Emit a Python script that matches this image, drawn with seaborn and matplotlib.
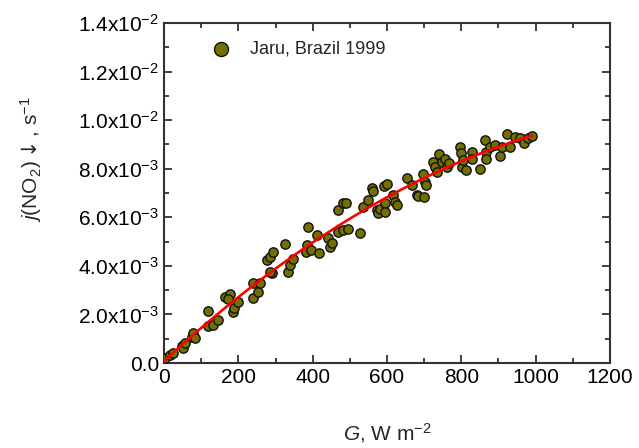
import numpy as np
import pandas as pd
import matplotlib
matplotlib.use("Agg")
import matplotlib.pyplot as plt
import seaborn as sns
from matplotlib.ticker import MultipleLocator, FuncFormatter

# irradiance G (W m-2)
g_values = [3, 16, 24, 48, 51, 56, 75, 78, 83, 118, 118, 132, 145, 164, 178, 172,
            186, 188, 199, 239, 239, 253, 258, 277, 285, 293, 291, 285, 325, 334,
            339, 347, 385, 387, 382, 395, 412, 417, 441, 447, 452, 468, 482, 490,
            468, 482, 495, 527, 535, 549, 560, 562, 573, 576, 581, 594, 594, 592,
            600, 616, 621, 627, 654, 667, 681, 683, 699, 697, 702, 705, 724, 729,
            734, 740, 748, 756, 761, 767, 796, 799, 802, 812, 804, 829, 829, 850,
            863, 866, 866, 877, 890, 904, 909, 923, 931, 944, 958, 968, 979, 990]

# photolysis frequency j(NO2), s-1
j_values = [0.00021, 0.00033, 0.00041, 0.00070, 0.00062, 0.00082, 0.00107, 0.00124,
            0.00103, 0.00214, 0.00152, 0.00156, 0.00177, 0.00272, 0.00284, 0.00264,
            0.00210, 0.00226, 0.00251, 0.00329, 0.00268, 0.00292, 0.00329, 0.00424,
            0.00437, 0.00457, 0.00371, 0.00375, 0.00490, 0.00375, 0.00404, 0.00428,
            0.00486, 0.00560, 0.00457, 0.00465, 0.00527, 0.00453, 0.00515, 0.00478,
            0.00494, 0.00630, 0.00659, 0.00659, 0.00539, 0.00548, 0.00552, 0.00535,
            0.00642, 0.00671, 0.00721, 0.00708, 0.00630, 0.00618, 0.00634, 0.00659,
            0.00622, 0.00729, 0.00737, 0.00692, 0.00663, 0.00651, 0.00762, 0.00733,
            0.00692, 0.00688, 0.00684, 0.00778, 0.00745, 0.00733, 0.00828, 0.00807,
            0.00787, 0.00861, 0.00828, 0.00840, 0.00807, 0.00824, 0.00889, 0.00865,
            0.00807, 0.00795, 0.00836, 0.00869, 0.00840, 0.00799, 0.00918, 0.00869,
            0.00840, 0.00889, 0.00898, 0.00852, 0.00889, 0.00943, 0.00889, 0.00931,
            0.00926, 0.00906, 0.00926, 0.00935]

series_label = "Jaru, Brazil 1999"

df = pd.DataFrame({"G": g_values, "j": j_values})

sns.set_theme(style="ticks")
plt.rcParams["font.family"] = ["Liberation Sans", "DejaVu Sans"]
plt.rcParams["mathtext.fontset"] = "custom"
plt.rcParams["mathtext.rm"] = "Liberation Sans"
plt.rcParams["mathtext.it"] = "Liberation Sans:italic"
plt.rcParams["mathtext.sf"] = "DejaVu Sans"
plt.rcParams["mathtext.default"] = "regular"

fig = plt.figure(figsize=(6.39, 4.48), dpi=100)
ax = fig.add_axes([0.2567, 0.1897, 0.6979, 0.759])

sns.scatterplot(data=df, x="G", y="j", ax=ax, color="#727000", edgecolor="#111111",
                linewidth=1.0, s=45, label=series_label, zorder=3)
sns.regplot(data=df, x="G", y="j", ax=ax, order=2, ci=None, scatter=False,
            line_kws={"color": "red", "linewidth": 1.9, "zorder": 4})

ax.set_xlim(0, 1200)
ax.set_ylim(0, 0.014)
ax.xaxis.set_major_locator(MultipleLocator(200))
ax.xaxis.set_minor_locator(MultipleLocator(100))
ax.yaxis.set_major_locator(MultipleLocator(0.002))
ax.yaxis.set_minor_locator(MultipleLocator(0.001))

def sci_fmt(v, pos):
    if abs(v) < 1e-12:
        return "0.0"
    e = int(np.floor(np.log10(abs(v))))
    m = v / 10 ** e
    return f"{m:.1f}x10$^{{{e}}}$"

ax.yaxis.set_major_formatter(FuncFormatter(sci_fmt))

ax.tick_params(which="both", direction="in", top=True, right=True, colors="#333333",
               labelcolor="black", labelsize=15, width=1.3)
ax.tick_params(which="major", length=6)
ax.tick_params(which="minor", length=3.5)
for sp in ax.spines.values():
    sp.set_linewidth(1.5)
    sp.set_color("#333333")

ax.set_xlabel(r"$\it{G}$, W m$^{-2}$", fontsize=15)
ax.set_ylabel(r"$\it{j}$(NO$_2$)$\mathsf{\downarrow}$, s$^{-1}$", fontsize=15)
ax.yaxis.set_label_coords(-0.27, 0.6)
ax.xaxis.set_label_coords(0.5, -0.17)

ax.legend(loc="upper left", bbox_to_anchor=(0.05, 0.995), frameon=False,
          fontsize=13, markerscale=1.5, handletextpad=0.6)

fig.savefig("out.png", dpi=100)
